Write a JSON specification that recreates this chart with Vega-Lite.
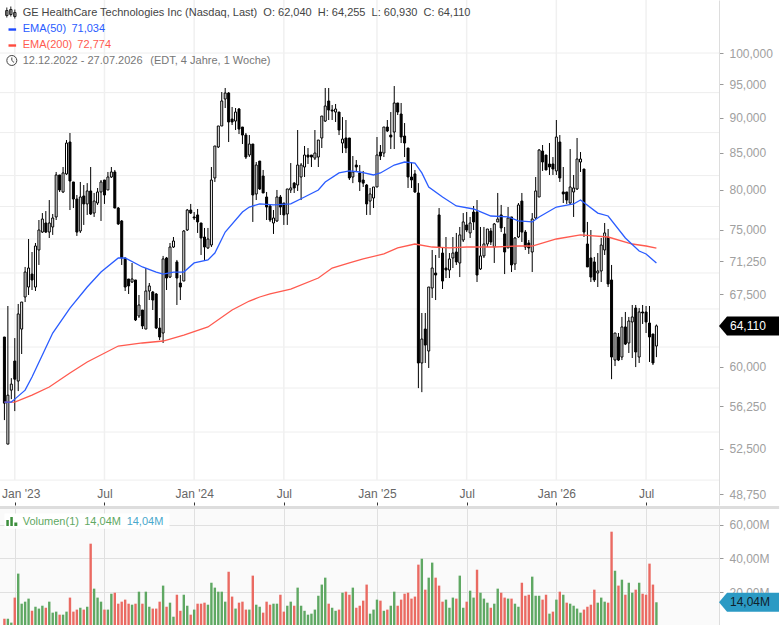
{
  "$schema": "https://vega.github.io/schema/vega-lite/v6.json",
  "description": "GE HealthCare Technologies weekly candles with EMA(50), EMA(200) and volume",
  "padding": {"left": -3, "right": 0, "top": -1, "bottom": 0},
  "background": "#ffffff",
  "spacing": 0,
  "config": {
    "view": {"stroke": null},
    "text": {"font": "Liberation Sans", "fontSize": 11, "align": "left", "baseline": "middle"},
    "axis": {"labelFont": "Liberation Sans"}
  },
  "datasets": {
    "weeks": [
      {"date":"2022-12-12","open":62.96,"high":62.96,"low":54.99,"close":56.53,"volume":4.3,"dir":"down"},
      {"date":"2022-12-19","open":52.88,"high":66.22,"low":52.88,"close":57.27,"volume":4.3,"dir":"up"},
      {"date":"2022-12-26","open":57.74,"high":58.88,"low":56.9,"close":58.31,"volume":2.0,"dir":"up"},
      {"date":"2023-01-02","open":60.54,"high":62.85,"low":55.8,"close":58.78,"volume":16.8,"dir":"down"},
      {"date":"2023-01-09","open":58.6,"high":66.44,"low":57.65,"close":65.37,"volume":31,"dir":"up"},
      {"date":"2023-01-16","open":63.78,"high":66.65,"low":61.24,"close":66.65,"volume":13.2,"dir":"up"},
      {"date":"2023-01-23","open":67.2,"high":70.57,"low":66.65,"close":69.99,"volume":14.4,"dir":"up"},
      {"date":"2023-01-30","open":68.3,"high":73.86,"low":67.42,"close":70.45,"volume":16.2,"dir":"up"},
      {"date":"2023-02-06","open":69.76,"high":72.31,"low":67.97,"close":69.09,"volume":9,"dir":"down"},
      {"date":"2023-02-13","open":68.3,"high":73.38,"low":67.86,"close":73.02,"volume":11.4,"dir":"up"},
      {"date":"2023-02-20","open":72.55,"high":76.18,"low":70.8,"close":74.95,"volume":10.3,"dir":"up"},
      {"date":"2023-02-27","open":74.7,"high":77.05,"low":74.59,"close":76.3,"volume":12,"dir":"up"},
      {"date":"2023-03-06","open":75.81,"high":77.3,"low":74.59,"close":74.7,"volume":10.8,"dir":"down"},
      {"date":"2023-03-13","open":74.7,"high":78.7,"low":73.98,"close":75.81,"volume":14.4,"dir":"up"},
      {"date":"2023-03-20","open":75.32,"high":76.93,"low":74.35,"close":76.43,"volume":7.9,"dir":"up"},
      {"date":"2023-03-27","open":76.56,"high":82.38,"low":76.18,"close":81.98,"volume":8.5,"dir":"up"},
      {"date":"2023-04-03","open":81.98,"high":81.98,"low":79.74,"close":80.0,"volume":6.7,"dir":"down"},
      {"date":"2023-04-10","open":79.74,"high":83.05,"low":79.61,"close":82.25,"volume":6.7,"dir":"up"},
      {"date":"2023-04-17","open":82.12,"high":86.78,"low":81.98,"close":86.36,"volume":8.5,"dir":"up"},
      {"date":"2023-04-24","open":86.5,"high":87.78,"low":77.43,"close":81.18,"volume":16.8,"dir":"down"},
      {"date":"2023-05-01","open":81.05,"high":81.05,"low":77.68,"close":78.83,"volume":8.5,"dir":"down"},
      {"date":"2023-05-08","open":78.83,"high":79.35,"low":74.23,"close":74.7,"volume":9.7,"dir":"down"},
      {"date":"2023-05-15","open":74.83,"high":81.05,"low":74.59,"close":79.09,"volume":10.8,"dir":"up"},
      {"date":"2023-05-22","open":79.22,"high":80.65,"low":75.57,"close":78.2,"volume":9.7,"dir":"down"},
      {"date":"2023-05-29","open":78.2,"high":80.9,"low":76.81,"close":79.87,"volume":11.4,"dir":"up"},
      {"date":"2023-06-05","open":79.87,"high":83.05,"low":76.81,"close":76.93,"volume":48.7,"dir":"down"},
      {"date":"2023-06-12","open":77.05,"high":79.61,"low":76.56,"close":78.57,"volume":22.1,"dir":"up"},
      {"date":"2023-06-19","open":78.32,"high":80.26,"low":78.07,"close":79.74,"volume":16.8,"dir":"up"},
      {"date":"2023-06-26","open":79.74,"high":81.31,"low":76.06,"close":81.05,"volume":14.4,"dir":"up"},
      {"date":"2023-07-03","open":81.31,"high":81.31,"low":78.2,"close":79.35,"volume":9.7,"dir":"down"},
      {"date":"2023-07-10","open":80,"high":82.38,"low":80,"close":81.71,"volume":9.7,"dir":"up"},
      {"date":"2023-07-17","open":81.71,"high":83.05,"low":81.58,"close":82.38,"volume":19.1,"dir":"up"},
      {"date":"2023-07-24","open":82.38,"high":82.65,"low":77.68,"close":77.68,"volume":19.7,"dir":"down"},
      {"date":"2023-07-31","open":77.68,"high":77.81,"low":75.57,"close":75.69,"volume":13.2,"dir":"down"},
      {"date":"2023-08-07","open":76.06,"high":76.18,"low":70.8,"close":71.61,"volume":14.4,"dir":"down"},
      {"date":"2023-08-14","open":71.61,"high":71.61,"low":67.86,"close":68.3,"volume":15.6,"dir":"down"},
      {"date":"2023-08-21","open":69.2,"high":69.2,"low":67.53,"close":68.42,"volume":13.2,"dir":"down"},
      {"date":"2023-08-28","open":68.86,"high":71.03,"low":68.75,"close":69.2,"volume":12.6,"dir":"up"},
      {"date":"2023-09-04","open":69.09,"high":69.09,"low":64.62,"close":64.73,"volume":13.2,"dir":"down"},
      {"date":"2023-09-11","open":65.15,"high":67.42,"low":64.94,"close":66.33,"volume":20.3,"dir":"up"},
      {"date":"2023-09-18","open":65.79,"high":65.79,"low":63.78,"close":64.1,"volume":13.2,"dir":"down"},
      {"date":"2023-09-25","open":63.78,"high":70.45,"low":63.78,"close":67.86,"volume":20.3,"dir":"up"},
      {"date":"2023-10-02","open":67.86,"high":68.75,"low":66.87,"close":68.42,"volume":11.4,"dir":"up"},
      {"date":"2023-10-09","open":67.75,"high":67.86,"low":65.79,"close":66.87,"volume":10.3,"dir":"down"},
      {"date":"2023-10-16","open":67.53,"high":67.64,"low":63.78,"close":63.89,"volume":10.3,"dir":"down"},
      {"date":"2023-10-23","open":63.89,"high":64.94,"low":62.65,"close":62.96,"volume":14.4,"dir":"down"},
      {"date":"2023-10-30","open":63.37,"high":71.85,"low":62.35,"close":71.5,"volume":23.9,"dir":"up"},
      {"date":"2023-11-06","open":71.61,"high":71.73,"low":67.97,"close":69.31,"volume":11.4,"dir":"down"},
      {"date":"2023-11-13","open":69.42,"high":73.38,"low":69.31,"close":72.9,"volume":13.8,"dir":"up"},
      {"date":"2023-11-20","open":72.9,"high":74.1,"low":72.79,"close":73.62,"volume":5.5,"dir":"up"},
      {"date":"2023-11-27","open":71.15,"high":71.38,"low":66.33,"close":69.31,"volume":18.5,"dir":"down"},
      {"date":"2023-12-04","open":68.75,"high":69.65,"low":66.87,"close":68.3,"volume":9,"dir":"down"},
      {"date":"2023-12-11","open":68.97,"high":74.95,"low":68.97,"close":74.83,"volume":18.5,"dir":"up"},
      {"date":"2023-12-18","open":74.95,"high":77.56,"low":74.83,"close":77.43,"volume":12,"dir":"up"},
      {"date":"2023-12-25","open":77.43,"high":78.2,"low":76.93,"close":77.05,"volume":6.7,"dir":"down"},
      {"date":"2024-01-01","open":76.56,"high":77.18,"low":76.18,"close":76.43,"volume":9.7,"dir":"up"},
      {"date":"2024-01-08","open":76.81,"high":77.56,"low":74.59,"close":75.94,"volume":13.2,"dir":"down"},
      {"date":"2024-01-15","open":75.81,"high":75.81,"low":71.96,"close":73.98,"volume":13.2,"dir":"down"},
      {"date":"2024-01-22","open":74.1,"high":75.2,"low":71.38,"close":72.9,"volume":13.8,"dir":"down"},
      {"date":"2024-01-29","open":72.79,"high":75.2,"low":72.67,"close":73.86,"volume":12.6,"dir":"up"},
      {"date":"2024-02-05","open":73.14,"high":83.05,"low":72.9,"close":81.31,"volume":25.6,"dir":"up"},
      {"date":"2024-02-12","open":81.58,"high":85.94,"low":81.05,"close":85.94,"volume":22.7,"dir":"up"},
      {"date":"2024-02-19","open":85.8,"high":88.79,"low":85.66,"close":88.79,"volume":20.3,"dir":"up"},
      {"date":"2024-02-26","open":88.79,"high":93.84,"low":88.79,"close":92.48,"volume":20.3,"dir":"up"},
      {"date":"2024-03-04","open":92.78,"high":94.46,"low":91.43,"close":93.69,"volume":14.4,"dir":"up"},
      {"date":"2024-03-11","open":93.69,"high":93.84,"low":86.5,"close":89.37,"volume":32.1,"dir":"down"},
      {"date":"2024-03-18","open":89.8,"high":91.58,"low":88.93,"close":89.37,"volume":17.4,"dir":"down"},
      {"date":"2024-03-25","open":89.51,"high":91.43,"low":88.21,"close":90.83,"volume":10.3,"dir":"up"},
      {"date":"2024-04-01","open":91.28,"high":91.43,"low":87.63,"close":88.35,"volume":13.8,"dir":"down"},
      {"date":"2024-04-08","open":88.64,"high":88.64,"low":86.22,"close":87.49,"volume":14.4,"dir":"down"},
      {"date":"2024-04-15","open":87.49,"high":87.78,"low":84.14,"close":84.41,"volume":9.7,"dir":"down"},
      {"date":"2024-04-22","open":84.69,"high":87.49,"low":84.41,"close":86.22,"volume":9.7,"dir":"up"},
      {"date":"2024-04-29","open":86.22,"high":86.22,"low":75.94,"close":79.35,"volume":29.8,"dir":"down"},
      {"date":"2024-05-06","open":79.48,"high":83.73,"low":78.7,"close":83.32,"volume":12.6,"dir":"up"},
      {"date":"2024-05-13","open":83.86,"high":83.86,"low":80,"close":80.13,"volume":11.4,"dir":"up"},
      {"date":"2024-05-20","open":81.84,"high":82.65,"low":79.61,"close":79.61,"volume":7.9,"dir":"down"},
      {"date":"2024-05-27","open":79.09,"high":79.74,"low":76.18,"close":77.81,"volume":14.4,"dir":"down"},
      {"date":"2024-06-03","open":77.94,"high":78.07,"low":75.94,"close":76.18,"volume":12.6,"dir":"down"},
      {"date":"2024-06-10","open":75.81,"high":77.43,"low":74.47,"close":76.43,"volume":13.2,"dir":"up"},
      {"date":"2024-06-17","open":76.06,"high":80,"low":75.94,"close":79.09,"volume":13.2,"dir":"up"},
      {"date":"2024-06-24","open":79.09,"high":79.35,"low":76.81,"close":77.81,"volume":18.5,"dir":"down"},
      {"date":"2024-07-01","open":78.32,"high":78.32,"low":75.57,"close":76.81,"volume":8.5,"dir":"down"},
      {"date":"2024-07-08","open":76.93,"high":80.13,"low":75.57,"close":80.13,"volume":12,"dir":"up"},
      {"date":"2024-07-15","open":80,"high":83.59,"low":79.61,"close":80.26,"volume":14.4,"dir":"up"},
      {"date":"2024-07-22","open":80.9,"high":81.05,"low":79.61,"close":80.26,"volume":12,"dir":"down"},
      {"date":"2024-07-29","open":80.65,"high":88.21,"low":79.87,"close":83.32,"volume":22.7,"dir":"up"},
      {"date":"2024-08-05","open":81.71,"high":83.59,"low":78.7,"close":83.32,"volume":12,"dir":"up"},
      {"date":"2024-08-12","open":83.05,"high":85.94,"low":81.71,"close":84.69,"volume":9,"dir":"up"},
      {"date":"2024-08-19","open":84.69,"high":85.66,"low":83.46,"close":84.41,"volume":6.7,"dir":"up"},
      {"date":"2024-08-26","open":84.69,"high":84.69,"low":83.05,"close":84.41,"volume":7.3,"dir":"up"},
      {"date":"2024-09-02","open":84.27,"high":88.21,"low":84,"close":84.96,"volume":9.7,"dir":"up"},
      {"date":"2024-09-09","open":84.41,"high":86.78,"low":83.05,"close":86.78,"volume":17.9,"dir":"up"},
      {"date":"2024-09-16","open":87.07,"high":90.24,"low":85.66,"close":90.24,"volume":24.5,"dir":"up"},
      {"date":"2024-09-23","open":89.51,"high":94.46,"low":89.37,"close":91.73,"volume":28.6,"dir":"up"},
      {"date":"2024-09-30","open":92.48,"high":94.46,"low":89.66,"close":91.13,"volume":13.2,"dir":"down"},
      {"date":"2024-10-07","open":91.13,"high":91.88,"low":89.66,"close":90.98,"volume":10.8,"dir":"up"},
      {"date":"2024-10-14","open":90.83,"high":92.03,"low":89.37,"close":91.28,"volume":9,"dir":"up"},
      {"date":"2024-10-21","open":90.83,"high":90.83,"low":87.49,"close":88.21,"volume":9.7,"dir":"down"},
      {"date":"2024-10-28","open":86.36,"high":90.09,"low":84.96,"close":86.92,"volume":19.7,"dir":"up"},
      {"date":"2024-11-04","open":87.07,"high":89.66,"low":84.96,"close":85.66,"volume":20.3,"dir":"down"},
      {"date":"2024-11-11","open":87.07,"high":87.07,"low":81.31,"close":81.58,"volume":18.5,"dir":"down"},
      {"date":"2024-11-18","open":81.71,"high":84.55,"low":80.9,"close":82.38,"volume":22.7,"dir":"up"},
      {"date":"2024-11-25","open":83.32,"high":84,"low":82.38,"close":83.05,"volume":10.8,"dir":"down"},
      {"date":"2024-12-02","open":82.25,"high":83.32,"low":79.87,"close":81.05,"volume":12,"dir":"down"},
      {"date":"2024-12-09","open":81.31,"high":82.52,"low":80.39,"close":80.9,"volume":15,"dir":"down"},
      {"date":"2024-12-16","open":80.65,"high":80.78,"low":76.81,"close":78.2,"volume":24.5,"dir":"down"},
      {"date":"2024-12-23","open":78.57,"high":80.26,"low":76.81,"close":79.48,"volume":7.3,"dir":"up"},
      {"date":"2024-12-30","open":78.96,"high":80.39,"low":77.68,"close":80.39,"volume":9.7,"dir":"up"},
      {"date":"2025-01-06","open":80.39,"high":87.21,"low":80.39,"close":84.69,"volume":15.6,"dir":"up"},
      {"date":"2025-01-13","open":85.1,"high":86.08,"low":84,"close":84.55,"volume":15,"dir":"down"},
      {"date":"2025-01-20","open":84.96,"high":88.64,"low":84.41,"close":88.64,"volume":9,"dir":"up"},
      {"date":"2025-01-27","open":88.64,"high":89.66,"low":87.92,"close":88.07,"volume":9.7,"dir":"down"},
      {"date":"2025-02-03","open":87.49,"high":90.83,"low":85.52,"close":87.21,"volume":12,"dir":"up"},
      {"date":"2025-02-10","open":87.92,"high":94.76,"low":85.52,"close":92.18,"volume":20.3,"dir":"up"},
      {"date":"2025-02-17","open":92.18,"high":92.18,"low":90.39,"close":90.83,"volume":12,"dir":"down"},
      {"date":"2025-02-24","open":90.54,"high":92.18,"low":86.36,"close":87.21,"volume":15.6,"dir":"down"},
      {"date":"2025-03-03","open":87.35,"high":89.22,"low":84.41,"close":86.36,"volume":19.1,"dir":"down"},
      {"date":"2025-03-10","open":85.66,"high":85.66,"low":80.26,"close":81.71,"volume":19.7,"dir":"down"},
      {"date":"2025-03-17","open":81.71,"high":83.73,"low":80.26,"close":81.31,"volume":16.2,"dir":"down"},
      {"date":"2025-03-24","open":82.12,"high":82.65,"low":79.61,"close":79.74,"volume":17.4,"dir":"down"},
      {"date":"2025-03-31","open":79.61,"high":80.9,"low":57.93,"close":60.35,"volume":36.3,"dir":"down"},
      {"date":"2025-04-07","open":60.35,"high":65.47,"low":57.55,"close":62.75,"volume":39.8,"dir":"up"},
      {"date":"2025-04-14","open":63.78,"high":65.47,"low":60.35,"close":62.14,"volume":21.5,"dir":"down"},
      {"date":"2025-04-21","open":61.54,"high":68.3,"low":59.86,"close":68.3,"volume":28.6,"dir":"up"},
      {"date":"2025-04-28","open":68.19,"high":72.55,"low":67.09,"close":70.45,"volume":37.5,"dir":"up"},
      {"date":"2025-05-05","open":69.88,"high":71.96,"low":66.87,"close":69.65,"volume":28.6,"dir":"down"},
      {"date":"2025-05-12","open":76.81,"high":77.68,"low":71.61,"close":72.9,"volume":23.9,"dir":"down"},
      {"date":"2025-05-19","open":72.19,"high":72.79,"low":68.08,"close":68.97,"volume":14.4,"dir":"down"},
      {"date":"2025-05-26","open":70.45,"high":74.1,"low":69.31,"close":70.22,"volume":15.6,"dir":"up"},
      {"date":"2025-06-02","open":70.22,"high":72.19,"low":69.31,"close":71.5,"volume":10.8,"dir":"up"},
      {"date":"2025-06-09","open":71.61,"high":74.1,"low":70.45,"close":72.19,"volume":16.8,"dir":"up"},
      {"date":"2025-06-16","open":72.31,"high":74.59,"low":70.8,"close":71.15,"volume":16.2,"dir":"down"},
      {"date":"2025-06-23","open":71.03,"high":75.32,"low":69.42,"close":74.35,"volume":29.8,"dir":"up"},
      {"date":"2025-06-30","open":73.74,"high":77.05,"low":73.5,"close":75.94,"volume":10.8,"dir":"up"},
      {"date":"2025-07-07","open":75.57,"high":77.18,"low":74.7,"close":74.95,"volume":14.4,"dir":"down"},
      {"date":"2025-07-14","open":74.59,"high":76.56,"low":73.98,"close":75.81,"volume":20.9,"dir":"up"},
      {"date":"2025-07-21","open":77.18,"high":77.94,"low":74.95,"close":75.94,"volume":16.8,"dir":"up"},
      {"date":"2025-07-28","open":77.18,"high":78.7,"low":68.86,"close":69.65,"volume":33.3,"dir":"down"},
      {"date":"2025-08-04","open":70.34,"high":75.32,"low":70.22,"close":71.85,"volume":19.7,"dir":"up"},
      {"date":"2025-08-11","open":71.85,"high":75.32,"low":71.61,"close":73.26,"volume":16.2,"dir":"up"},
      {"date":"2025-08-18","open":73.26,"high":75.07,"low":72.9,"close":75.07,"volume":13.8,"dir":"up"},
      {"date":"2025-08-25","open":74.83,"high":75.2,"low":73.14,"close":73.5,"volume":10.8,"dir":"down"},
      {"date":"2025-09-01","open":72.9,"high":75.81,"low":71.03,"close":75.69,"volume":13.2,"dir":"up"},
      {"date":"2025-09-08","open":75.94,"high":79.61,"low":75.94,"close":76.3,"volume":22.1,"dir":"up"},
      {"date":"2025-09-15","open":76.81,"high":78.07,"low":74.7,"close":75.2,"volume":19.7,"dir":"down"},
      {"date":"2025-09-22","open":74.47,"high":75.32,"low":69.76,"close":72.31,"volume":16.8,"dir":"down"},
      {"date":"2025-09-29","open":72.79,"high":77.81,"low":72.79,"close":76.43,"volume":16.2,"dir":"up"},
      {"date":"2025-10-06","open":76.56,"high":76.56,"low":69.99,"close":70.8,"volume":16.2,"dir":"down"},
      {"date":"2025-10-13","open":70.91,"high":74.1,"low":70.22,"close":73.98,"volume":13.2,"dir":"up"},
      {"date":"2025-10-20","open":74.1,"high":78.32,"low":73.98,"close":78.07,"volume":11.4,"dir":"up"},
      {"date":"2025-10-27","open":78.57,"high":79.61,"low":73.5,"close":74.7,"volume":25.6,"dir":"down"},
      {"date":"2025-11-03","open":74.7,"high":74.95,"low":72.55,"close":72.9,"volume":17.9,"dir":"down"},
      {"date":"2025-11-10","open":73.38,"high":73.74,"low":72.08,"close":72.79,"volume":18.5,"dir":"down"},
      {"date":"2025-11-17","open":72.31,"high":77.05,"low":69.99,"close":76.3,"volume":29.2,"dir":"up"},
      {"date":"2025-11-24","open":76.43,"high":81.71,"low":76.3,"close":79.87,"volume":17.9,"dir":"up"},
      {"date":"2025-12-01","open":79.09,"high":85.52,"low":79.09,"close":85.38,"volume":17.9,"dir":"up"},
      {"date":"2025-12-08","open":85.24,"high":86.08,"low":82.52,"close":83.73,"volume":15.6,"dir":"down"},
      {"date":"2025-12-15","open":84.69,"high":84.69,"low":82.65,"close":82.65,"volume":18.5,"dir":"down"},
      {"date":"2025-12-22","open":83.46,"high":86.36,"low":81.98,"close":83.05,"volume":7.3,"dir":"up"},
      {"date":"2025-12-29","open":83.46,"high":84.41,"low":81.98,"close":82.78,"volume":8.5,"dir":"down"},
      {"date":"2026-01-05","open":82.52,"high":89.66,"low":81.98,"close":87.21,"volume":15.6,"dir":"up"},
      {"date":"2026-01-12","open":86.5,"high":87.49,"low":81.05,"close":81.58,"volume":20.3,"dir":"down"},
      {"date":"2026-01-19","open":79.74,"high":83.05,"low":78.32,"close":79.48,"volume":18.5,"dir":"up"},
      {"date":"2026-01-26","open":79.74,"high":79.74,"low":78.2,"close":78.7,"volume":13.8,"dir":"down"},
      {"date":"2026-02-02","open":78.32,"high":85.52,"low":78.2,"close":80.39,"volume":13.2,"dir":"up"},
      {"date":"2026-02-09","open":79.74,"high":81.98,"low":76.56,"close":80.26,"volume":12,"dir":"up"},
      {"date":"2026-02-16","open":80.13,"high":87.07,"low":80,"close":84.14,"volume":10.3,"dir":"up"},
      {"date":"2026-02-23","open":83.73,"high":85.1,"low":82.38,"close":84.14,"volume":7.9,"dir":"up"},
      {"date":"2026-03-02","open":82.78,"high":82.78,"low":74.1,"close":74.7,"volume":9.7,"dir":"down"},
      {"date":"2026-03-09","open":73.26,"high":75.94,"low":70.57,"close":70.57,"volume":11.4,"dir":"down"},
      {"date":"2026-03-16","open":71.61,"high":74.95,"low":68.86,"close":69.42,"volume":12.6,"dir":"down"},
      {"date":"2026-03-23","open":71.15,"high":71.73,"low":68.86,"close":69.09,"volume":21.5,"dir":"down"},
      {"date":"2026-03-30","open":69.88,"high":72.19,"low":68.3,"close":70.11,"volume":13.8,"dir":"up"},
      {"date":"2026-04-06","open":70.11,"high":73.98,"low":68.86,"close":73.14,"volume":16.8,"dir":"up"},
      {"date":"2026-04-13","open":72.55,"high":75.81,"low":71.96,"close":74.59,"volume":14.4,"dir":"up"},
      {"date":"2026-04-20","open":74.1,"high":75.07,"low":68.3,"close":68.64,"volume":13.8,"dir":"down"},
      {"date":"2026-04-27","open":69.09,"high":70.8,"low":58.78,"close":60.94,"volume":55.8,"dir":"down"},
      {"date":"2026-05-04","open":60.64,"high":63.37,"low":60.05,"close":63.37,"volume":32.7,"dir":"up"},
      {"date":"2026-05-11","open":62.96,"high":63.37,"low":60.54,"close":60.64,"volume":23.9,"dir":"down"},
      {"date":"2026-05-18","open":60.94,"high":65.05,"low":60.64,"close":64,"volume":27.4,"dir":"up"},
      {"date":"2026-05-25","open":64,"high":65.58,"low":62.14,"close":62.24,"volume":18.5,"dir":"down"},
      {"date":"2026-06-01","open":62.35,"high":65.05,"low":61.34,"close":64.62,"volume":25.6,"dir":"up"},
      {"date":"2026-06-08","open":64.52,"high":66.33,"low":60.84,"close":65.05,"volume":19.7,"dir":"up"},
      {"date":"2026-06-15","open":66,"high":66.33,"low":59.95,"close":61.44,"volume":21.5,"dir":"down"},
      {"date":"2026-06-22","open":60.94,"high":66,"low":60.35,"close":65.58,"volume":25.6,"dir":"up"},
      {"date":"2026-06-29","open":65.58,"high":66.33,"low":64.31,"close":65.47,"volume":19.1,"dir":"down"},
      {"date":"2026-07-06","open":65.58,"high":66.22,"low":63.37,"close":64.52,"volume":18.5,"dir":"down"},
      {"date":"2026-07-13","open":64.41,"high":66.22,"low":60.45,"close":62.96,"volume":36.9,"dir":"down"},
      {"date":"2026-07-20","open":63.27,"high":63.27,"low":60.15,"close":60.35,"volume":24.5,"dir":"down"},
      {"date":"2026-07-27","open":62.04,"high":64.255,"low":60.93,"close":64.11,"volume":14.04,"dir":"up"}
    ],
    "ema50": [
      {"date":"2022-12-12","ema":56.63},{"date":"2022-12-26","ema":56.63},{"date":"2023-01-02","ema":56.9},{"date":"2023-01-23","ema":57.74},
      {"date":"2023-02-06","ema":58.98},{"date":"2023-03-20","ema":63.37},{"date":"2023-04-24","ema":66.0},{"date":"2023-05-29","ema":68.3},
      {"date":"2023-06-26","ema":69.99},{"date":"2023-07-31","ema":71.61},{"date":"2023-08-14","ema":71.61},{"date":"2023-09-18","ema":70.57},
      {"date":"2023-10-16","ema":69.99},{"date":"2023-10-30","ema":69.76},{"date":"2023-11-20","ema":69.99},{"date":"2023-12-11","ema":69.99},
      {"date":"2024-01-01","ema":71.03},{"date":"2024-01-29","ema":71.38},{"date":"2024-02-12","ema":72.19},{"date":"2024-03-04","ema":74.7},
      {"date":"2024-04-08","ema":77.18},{"date":"2024-04-22","ema":77.81},{"date":"2024-05-13","ema":78.2},{"date":"2024-06-10","ema":78.07},
      {"date":"2024-07-15","ema":78.2},{"date":"2024-08-12","ema":79.09},{"date":"2024-09-09","ema":80.0},{"date":"2024-09-23","ema":81.05},
      {"date":"2024-10-21","ema":82.25},{"date":"2024-11-11","ema":82.52},{"date":"2024-12-02","ema":82.38},{"date":"2024-12-30","ema":81.98},
      {"date":"2025-01-13","ema":82.25},{"date":"2025-02-10","ema":83.32},{"date":"2025-03-03","ema":83.73},{"date":"2025-03-24","ema":83.59},
      {"date":"2025-04-07","ema":82.25},{"date":"2025-04-21","ema":80.39},{"date":"2025-05-19","ema":79.09},{"date":"2025-06-16","ema":77.94},
      {"date":"2025-07-21","ema":77.56},{"date":"2025-08-25","ema":76.68},{"date":"2025-09-29","ema":76.56},{"date":"2025-10-20","ema":76.06},
      {"date":"2025-11-17","ema":75.94},{"date":"2025-12-01","ema":76.56},{"date":"2026-01-05","ema":77.81},{"date":"2026-02-09","ema":78.2},
      {"date":"2026-02-23","ema":78.7},{"date":"2026-03-30","ema":77.05},{"date":"2026-04-20","ema":76.68},{"date":"2026-05-25","ema":73.98},
      {"date":"2026-06-22","ema":72.43},{"date":"2026-07-06","ema":72.08},{"date":"2026-07-27","ema":71.034}
    ],
    "ema200": [
      {"date":"2022-12-12","ema":56.63},{"date":"2023-01-02","ema":56.63},{"date":"2023-02-06","ema":57.27},{"date":"2023-03-13","ema":58.03},
      {"date":"2023-04-24","ema":59.37},{"date":"2023-05-29","ema":60.45},{"date":"2023-07-31","ema":62.04},{"date":"2023-09-18","ema":62.35},
      {"date":"2023-10-30","ema":62.55},{"date":"2023-12-11","ema":63.16},{"date":"2024-01-29","ema":64.0},{"date":"2024-03-18","ema":65.79},
      {"date":"2024-04-22","ema":66.76},{"date":"2024-05-13","ema":67.2},{"date":"2024-06-03","ema":67.53},{"date":"2024-07-15","ema":68.08},
      {"date":"2024-09-09","ema":69.31},{"date":"2024-10-07","ema":70.45},{"date":"2024-11-11","ema":71.03},{"date":"2024-12-09","ema":71.5},
      {"date":"2025-01-20","ema":72.08},{"date":"2025-02-17","ema":72.79},{"date":"2025-03-24","ema":73.26},{"date":"2025-04-28","ema":72.9},
      {"date":"2025-06-02","ema":72.79},{"date":"2025-07-07","ema":72.9},{"date":"2025-09-01","ema":72.9},{"date":"2025-10-20","ema":73.02},
      {"date":"2025-11-17","ema":73.02},{"date":"2026-01-05","ema":73.86},{"date":"2026-02-23","ema":74.35},{"date":"2026-04-20","ema":74.1},
      {"date":"2026-06-08","ema":73.26},{"date":"2026-07-06","ema":73.02},{"date":"2026-07-27","ema":72.774}
    ],
    "timeTicks": [
      {"date":"2023-01-02"},{"date":"2023-07-03"},{"date":"2024-01-01"},{"date":"2024-07-01"},
      {"date":"2025-01-06"},{"date":"2025-07-07"},{"date":"2026-01-05"},{"date":"2026-07-06"}
    ],
    "priceGrid": [
      {"price":49.87},{"price":53.93},{"price":57.94},{"price":61.94},{"price":65.9},{"price":69.88},
      {"price":73.86},{"price":77.88},{"price":81.9},{"price":87.84},{"price":93.75},{"price":100}
    ]
  },
  "vconcat": [
    {
      "width": 720,
      "height": 505,
      "layer": [
        {
          "data": {"name": "priceGrid"},
          "mark": {"type": "rule", "color": "#eeeeee", "strokeWidth": 1},
          "encoding": {
            "y": {
              "field": "price",
              "type": "quantitative",
              "title": null,
              "scale": {"type": "log", "domain": [47.885, 109.02], "nice": false},
              "axis": {
                "orient": "right",
                "values": [48.75, 52.5, 56.25, 60, 67.5, 71.25, 75, 80, 85, 90, 95, 100],
                "labelExpr": "replace(format(datum.value, '.3f'), '.', ',')",
                "grid": false,
                "domainColor": "#dddddd",
                "tickColor": "#999999",
                "tickSize": 4,
                "labelColor": "#a0a0a0",
                "labelFontSize": 12,
                "labelPadding": 6
              }
            }
          }
        },
        {
          "data": {"name": "timeTicks"},
          "mark": {"type": "rule", "color": "#f0f0f0", "strokeWidth": 1.5},
          "encoding": {
            "x": {
              "field": "date",
              "type": "temporal",
              "title": null,
              "scale": {"type": "utc", "padding": 0, "domain": [{"year":2022,"month":12,"date":1,"utc":true}, {"year":2026,"month":12,"date":1,"utc":true}]},
              "axis": {
                "orient": "bottom",
                "values": [{"year":2023,"month":1,"date":2,"utc":true}, {"year":2023,"month":7,"date":3,"utc":true}, {"year":2024,"month":1,"date":1,"utc":true}, {"year":2024,"month":7,"date":1,"utc":true}, {"year":2025,"month":1,"date":6,"utc":true}, {"year":2025,"month":7,"date":7,"utc":true}, {"year":2026,"month":1,"date":5,"utc":true}, {"year":2026,"month":7,"date":6,"utc":true}],
                "labelExpr": "utcmonth(datum.value) == 0 ? \"Jan '\" + utcFormat(datum.value, '%y') : 'Jul'",
                "grid": false,
                "domain": false,
                "tickColor": "#333333",
                "tickSize": -3,
                "labelPadding": -14,
                "labelOffset": {"condition": {"test": "utcyear(datum.value) == 2023 && utcmonth(datum.value) == 0", "value": 6}, "value": 0},
                "labelBaseline": "top",
                "labelColor": "#666666",
                "labelFontSize": 12,
                "labelFlush": false,
                "labelOverlap": false
              }
            },
            "y": {"datum": 49.87},
            "y2": {"datum": 109.02}
          }
        },
        {
          "data": {"name": "weeks"},
          "mark": {"type": "rule", "color": "#000000", "strokeWidth": 1},
          "encoding": {
            "x": {"field": "date", "type": "temporal"},
            "y": {"field": "low", "type": "quantitative"},
            "y2": {"field": "high"}
          }
        },
        {
          "data": {"name": "weeks"},
          "mark": {"type": "bar", "size": 2, "stroke": "#000000", "strokeWidth": 1},
          "encoding": {
            "x": {"field": "date", "type": "temporal"},
            "y": {"field": "open", "type": "quantitative"},
            "y2": {"field": "close"},
            "fill": {"condition": {"test": "datum.close < datum.open", "value": "#000000"}, "value": "#ffffff"}
          }
        },
        {
          "data": {"name": "ema200"},
          "mark": {"type": "line", "color": "#ff5a4f", "strokeWidth": 1.3},
          "encoding": {
            "x": {"field": "date", "type": "temporal"},
            "y": {"field": "ema", "type": "quantitative"}
          }
        },
        {
          "data": {"name": "ema50"},
          "mark": {"type": "line", "color": "#2a5cff", "strokeWidth": 1.3},
          "encoding": {
            "x": {"field": "date", "type": "temporal"},
            "y": {"field": "ema", "type": "quantitative"}
          }
        },
        {
          "data": {"values": [{"label": "GE HealthCare Technologies Inc (Nasdaq, Last)\u00a0\u00a0O: 62,040\u00a0\u00a0H: 64,255\u00a0\u00a0L: 60,930\u00a0\u00a0C: 64,110"}]},
          "mark": {"type": "text", "color": "#444444"},
          "encoding": {
            "x": {"datum": {"year":2023,"month":1,"date":18,"utc":true}, "type": "temporal"},
            "y": {"datum": 106.73},
            "text": {"field": "label"}
          }
        },
        {
          "data": {"values": [{"label": "EMA(50)"}]},
          "mark": {"type": "text", "color": "#2a5cff"},
          "encoding": {
            "x": {"datum": {"year":2023,"month":1,"date":18,"utc":true}, "type": "temporal"},
            "y": {"datum": 103.99},
            "text": {"field": "label"}
          }
        },
        {
          "data": {"values": [{"label": "71,034"}]},
          "mark": {"type": "text", "color": "#2a5cff"},
          "encoding": {
            "x": {"datum": {"year":2023,"month":4,"date":27,"utc":true}, "type": "temporal"},
            "y": {"datum": 103.99},
            "text": {"field": "label"}
          }
        },
        {
          "data": {"values": [{"label": "EMA(200)"}]},
          "mark": {"type": "text", "color": "#ff5a4f"},
          "encoding": {
            "x": {"datum": {"year":2023,"month":1,"date":18,"utc":true}, "type": "temporal"},
            "y": {"datum": 101.3},
            "text": {"field": "label"}
          }
        },
        {
          "data": {"values": [{"label": "72,774"}]},
          "mark": {"type": "text", "color": "#ff5a4f"},
          "encoding": {
            "x": {"datum": {"year":2023,"month":5,"date":9,"utc":true}, "type": "temporal"},
            "y": {"datum": 101.3},
            "text": {"field": "label"}
          }
        },
        {
          "data": {"values": [{"label": "12.12.2022 - 27.07.2026"}]},
          "mark": {"type": "text", "color": "#777777"},
          "encoding": {
            "x": {"datum": {"year":2023,"month":1,"date":18,"utc":true}, "type": "temporal"},
            "y": {"datum": 98.7},
            "text": {"field": "label"}
          }
        },
        {
          "data": {"values": [{"label": "(EDT, 4 Jahre, 1 Woche)"}]},
          "mark": {"type": "text", "color": "#777777"},
          "encoding": {
            "x": {"datum": {"year":2023,"month":10,"date":4,"utc":true}, "type": "temporal"},
            "y": {"datum": 98.7},
            "text": {"field": "label"}
          }
        },
        {
          "data": {"values": [{"icon": "candles"}]},
          "mark": {
            "type": "point",
            "size": 4,
            "filled": false,
            "stroke": "#222222",
            "strokeWidth": 1,
            "opacity": 1,
            "shape": "M-4,-5V5M-5.2,-2H-2.8V3H-5.2ZM0,-6V4M-1.2,-3H1.2V2H-1.2ZM4,-3V6M2.8,0H5.2V4H2.8Z"
          },
          "encoding": {
            "x": {"datum": {"year":2022,"month":12,"date":25,"utc":true}, "type": "temporal"},
            "y": {"datum": 106.82}
          }
        },
        {
          "data": {"values": [{"icon": "ema50"}]},
          "mark": {"type": "point", "size": 4, "filled": true, "opacity": 1, "color": "#1f4bff", "shape": "M-3.8,-1.2H3.8V1.2H-3.8Z"},
          "encoding": {
            "x": {"datum": {"year":2022,"month":12,"date":28,"utc":true}, "type": "temporal"},
            "y": {"datum": 103.9}
          }
        },
        {
          "data": {"values": [{"icon": "ema200"}]},
          "mark": {"type": "point", "size": 4, "filled": true, "opacity": 1, "color": "#ff4a3d", "shape": "M-3.8,-1.2H3.8V1.2H-3.8Z"},
          "encoding": {
            "x": {"datum": {"year":2022,"month":12,"date":28,"utc":true}, "type": "temporal"},
            "y": {"datum": 101.23}
          }
        },
        {
          "data": {"values": [{"icon": "clock"}]},
          "mark": {
            "type": "point",
            "size": 4,
            "filled": false,
            "stroke": "#444444",
            "strokeWidth": 1,
            "opacity": 1,
            "shape": "M-5,0A5,5 0 1,1 5,0A5,5 0 1,1 -5,0ZM0,-3V0L2.2,2"
          },
          "encoding": {
            "x": {"datum": {"year":2022,"month":12,"date":27,"utc":true}, "type": "temporal"},
            "y": {"datum": 98.79}
          }
        },
        {
          "data": {"values": [{"last": 64.11}]},
          "mark": {"type": "point", "size": 4, "filled": true, "opacity": 1, "color": "#000000", "shape": "M0,0L8,-9.5H60V9.5H8Z"},
          "encoding": {
            "x": {"datum": {"year":2026,"month":12,"date":1,"utc":true}, "type": "temporal"},
            "y": {"field": "last", "type": "quantitative"}
          }
        },
        {
          "data": {"values": [{"last": 64.11, "label": "64,110"}]},
          "mark": {"type": "text", "color": "#ffffff", "fontSize": 12, "xOffset": 11},
          "encoding": {
            "x": {"datum": {"year":2026,"month":12,"date":1,"utc":true}, "type": "temporal"},
            "y": {"field": "last", "type": "quantitative"},
            "text": {"field": "label"}
          }
        }
      ]
    },
    {
      "width": 720,
      "height": 120,
      "view": {"fill": "#fafafa"},
      "layer": [
        {
          "data": {"name": "weeks"},
          "mark": {"type": "bar", "size": 2.4},
          "encoding": {
            "x": {
              "field": "date",
              "type": "temporal",
              "title": null,
              "scale": {"type": "utc", "padding": 0, "domain": [{"year":2022,"month":12,"date":1,"utc":true}, {"year":2026,"month":12,"date":1,"utc":true}]},
              "axis": {
                "orient": "bottom",
                "values": [{"year":2023,"month":1,"date":2,"utc":true}, {"year":2023,"month":7,"date":3,"utc":true}, {"year":2024,"month":1,"date":1,"utc":true}, {"year":2024,"month":7,"date":1,"utc":true}, {"year":2025,"month":1,"date":6,"utc":true}, {"year":2025,"month":7,"date":7,"utc":true}, {"year":2026,"month":1,"date":5,"utc":true}, {"year":2026,"month":7,"date":6,"utc":true}],
                "labels": false,
                "ticks": false,
                "domain": false,
                "grid": true,
                "gridColor": "#e0e0e0",
                "gridWidth": 1
              }
            },
            "y": {
              "field": "volume",
              "type": "quantitative",
              "title": null,
              "scale": {"domain": [0, 71], "nice": false},
              "axis": {
                "orient": "right",
                "values": [20, 40, 60],
                "labelExpr": "replace(format(datum.value, '.2f'), '.', ',') + 'M'",
                "grid": true,
                "gridColor": "#e0e0e0",
                "domainColor": "#dddddd",
                "tickColor": "#999999",
                "tickSize": 4,
                "labelColor": "#a0a0a0",
                "labelFontSize": 12,
                "labelPadding": 6
              }
            },
            "color": {
              "field": "dir",
              "type": "nominal",
              "scale": {"domain": ["up", "down"], "range": ["#5fa863", "#ea6a62"]},
              "legend": null
            }
          }
        },
        {
          "data": {"values": [{"box": "legend"}]},
          "mark": {"type": "rect", "color": "#ffffff"},
          "encoding": {
            "x": {"datum": {"year":2022,"month":12,"date":12,"utc":true}, "type": "temporal"},
            "x2": {"datum": {"year":2023,"month":11,"date":12,"utc":true}},
            "y": {"datum": 57.6},
            "y2": {"datum": 66.5}
          }
        },
        {
          "data": {"values": [{"label": "Volumen(1)"}]},
          "mark": {"type": "text", "color": "#5fa863"},
          "encoding": {
            "x": {"datum": {"year":2023,"month":1,"date":18,"utc":true}, "type": "temporal"},
            "y": {"datum": 61.8},
            "text": {"field": "label"}
          }
        },
        {
          "data": {"values": [{"label": "14,04M"}]},
          "mark": {"type": "text", "color": "#5fa863"},
          "encoding": {
            "x": {"datum": {"year":2023,"month":5,"date":23,"utc":true}, "type": "temporal"},
            "y": {"datum": 61.8},
            "text": {"field": "label"}
          }
        },
        {
          "data": {"values": [{"label": "14,04M"}]},
          "mark": {"type": "text", "color": "#4aa8cc"},
          "encoding": {
            "x": {"datum": {"year":2023,"month":8,"date":17,"utc":true}, "type": "temporal"},
            "y": {"datum": 61.8},
            "text": {"field": "label"}
          }
        },
        {
          "data": {"values": [{"icon": "volume"}]},
          "mark": {
            "type": "point",
            "size": 4,
            "filled": true,
            "opacity": 1,
            "color": "#3d8f3d",
            "shape": "M-5.5,4.5V-1.5H-3V4.5ZM-1.5,4.5V-4.5H1V4.5ZM2.5,4.5V1H5.5V4.5Z"
          },
          "encoding": {
            "x": {"datum": {"year":2022,"month":12,"date":27,"utc":true}, "type": "temporal"},
            "y": {"datum": 61.8}
          }
        },
        {
          "data": {"values": [{"band": "divider"}]},
          "mark": {"type": "rule", "color": "#dddddd", "strokeWidth": 3, "clip": false},
          "encoding": {
            "x": {"datum": {"year":2022,"month":12,"date":1,"utc":true}, "type": "temporal"},
            "x2": {"datum": {"year":2027,"month":4,"date":2,"utc":true}},
            "y": {"datum": 70.1}
          }
        },
        {
          "data": {"values": [{"last": 14.04}]},
          "mark": {"type": "point", "size": 4, "filled": true, "opacity": 1, "color": "#2b9ac4", "shape": "M0,0L8,-9.5H60V9.5H8Z"},
          "encoding": {
            "x": {"datum": {"year":2026,"month":12,"date":1,"utc":true}, "type": "temporal"},
            "y": {"field": "last", "type": "quantitative"}
          }
        },
        {
          "data": {"values": [{"last": 14.04, "label": "14,04M"}]},
          "mark": {"type": "text", "color": "#10212b", "fontSize": 12, "xOffset": 11},
          "encoding": {
            "x": {"datum": {"year":2026,"month":12,"date":1,"utc":true}, "type": "temporal"},
            "y": {"field": "last", "type": "quantitative"},
            "text": {"field": "label"}
          }
        }
      ]
    }
  ]
}
